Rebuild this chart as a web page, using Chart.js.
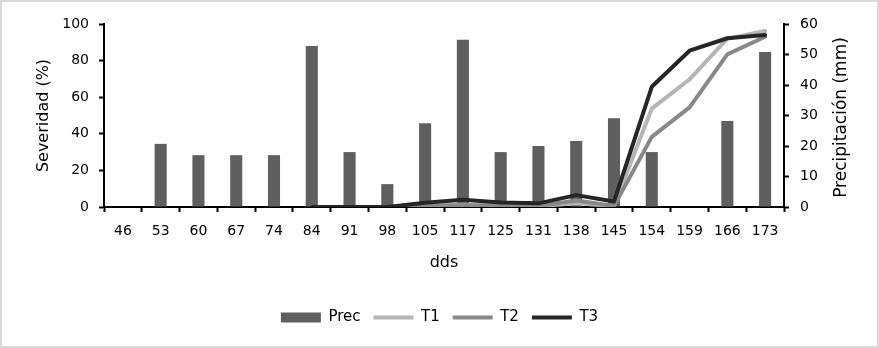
<!DOCTYPE html>
<html>
<head>
<meta charset="utf-8">
<script src="https://cdn.jsdelivr.net/npm/chart.js@4/dist/chart.umd.min.js"></script>
<style>
  html, body { margin: 0; padding: 0; background: #fff; }
  #wrap { width: 879px; height: 348px; }
</style>
</head>
<body>
<div id="wrap"><canvas id="chart" width="879" height="348"></canvas></div>
<script>
// Days after sowing (dds)
const days = ['46', '53', '60', '67', '74', '84', '91', '98', '105', '117', '125', '131', '138', '145', '154', '159', '166', '173'];

// Rainfall per interval, mm (right axis)
const precipitation = [0, 20.7, 17, 17, 17, 52.8, 18, 7.5, 27.5, 54.8, 18, 20, 21.6, 29.1, 18, 0, 28.2, 50.8];

// Disease severity per treatment, % (left axis)
const severityT1 = [null, null, null, null, null, 0, 0, 0, 0.5, 1.2, 0.8, 0.5, 2, 0.5, 53.8, 69.7, 92, 96.2];
const severityT2 = [null, null, null, null, null, 0, 0, 0, 0.5, 1, 0.5, 0.5, 3.5, 0.5, 38.3, 54.4, 83.4, 93];
const severityT3 = [null, null, null, null, null, 0, 0, 0, 2.3, 4, 2.5, 2, 6.5, 3, 65.7, 85.4, 92.2, 94];

const severityTicks = [0, 20, 40, 60, 80, 100];
const rainTicks = [0, 10, 20, 30, 40, 50, 60];

const FONT = 'DejaVu Sans';
const INK = '#000';

// White page with a light frame, plus the right axis title read bottom-to-top
const framePlugin = {
  id: 'frame',
  beforeDraw(chart) {
    const { ctx, width, height } = chart;
    ctx.save();
    ctx.fillStyle = '#fff';
    ctx.fillRect(0, 0, width, height);
    ctx.strokeStyle = '#d9d9d9';
    ctx.lineWidth = 2;
    ctx.strokeRect(1, 1, width - 2, height - 2);
    ctx.restore();
  },
  afterDraw(chart) {
    const { ctx, chartArea } = chart;
    const scale = chart.scales.y1;
    ctx.save();
    ctx.translate(scale.right - 25, (chartArea.top + chartArea.bottom) / 2 + 2);
    ctx.rotate(-Math.PI / 2);
    ctx.font = '17px "' + FONT + '"';
    ctx.fillStyle = INK;
    ctx.textAlign = 'center';
    ctx.textBaseline = 'middle';
    ctx.fillText('Precipitación (mm)', 0, 0);
    ctx.restore();
  }
};

const axisGrid = {
  drawOnChartArea: false,
  drawTicks: true,
  tickLength: 5,
  tickColor: '#000',
  tickWidth: 2
};
const axisBorder = { display: true, color: '#000', width: 2 };

new Chart(document.getElementById('chart'), {
  type: 'bar',
  data: {
    labels: days,
    datasets: [
      {
        type: 'bar',
        label: 'Prec',
        data: precipitation,
        yAxisID: 'y1',
        backgroundColor: '#5f5f5f',
        borderWidth: 0,
        barPercentage: 0.32,
        categoryPercentage: 1,
        pointStyle: 'rect',
        order: 4
      },
      {
        type: 'line',
        label: 'T1',
        data: severityT1,
        yAxisID: 'y',
        borderColor: '#b5b5b5',
        backgroundColor: '#b5b5b5',
        borderWidth: 4,
        borderCapStyle: 'round',
        borderJoinStyle: 'round',
        pointRadius: 0,
        pointStyle: 'line',
        tension: 0,
        order: 3
      },
      {
        type: 'line',
        label: 'T2',
        data: severityT2,
        yAxisID: 'y',
        borderColor: '#888888',
        backgroundColor: '#888888',
        borderWidth: 4,
        borderCapStyle: 'round',
        borderJoinStyle: 'round',
        pointRadius: 0,
        pointStyle: 'line',
        tension: 0,
        order: 2
      },
      {
        type: 'line',
        label: 'T3',
        data: severityT3,
        yAxisID: 'y',
        borderColor: '#262626',
        backgroundColor: '#262626',
        borderWidth: 4,
        borderCapStyle: 'round',
        borderJoinStyle: 'round',
        pointRadius: 0,
        pointStyle: 'line',
        tension: 0,
        order: 1
      }
    ]
  },
  options: {
    responsive: false,
    animation: false,
    devicePixelRatio: 1,
    layout: { padding: { left: 12, right: 12, top: 24, bottom: 13 } },
    plugins: {
      tooltip: { enabled: false },
      legend: {
        position: 'bottom',
        labels: {
          font: { family: FONT, size: 15 },
          color: INK,
          usePointStyle: true,
          pointStyleWidth: 40,
          boxHeight: 10,
          padding: 13,
          sort: (a, b) => a.datasetIndex - b.datasetIndex
        }
      }
    },
    scales: {
      x: {
        grid: axisGrid,
        border: axisBorder,
        ticks: {
          font: { family: FONT, size: 14 },
          color: INK,
          maxRotation: 0,
          autoSkip: false,
          padding: 11
        },
        title: {
          display: true,
          text: 'dds',
          font: { family: FONT, size: 16 },
          color: INK,
          padding: { top: 0, bottom: 25 }
        },
        afterFit(scale) { scale.height = 90; }
      },
      y: {
        position: 'left',
        min: 0,
        max: 100,
        grid: axisGrid,
        border: axisBorder,
        afterBuildTicks(scale) { scale.ticks = severityTicks.map(v => ({ value: v })); },
        ticks: {
          font: { family: FONT, size: 14 },
          color: INK,
          padding: 10
        },
        title: {
          display: true,
          text: 'Severidad (%)',
          font: { family: FONT, size: 16 },
          color: INK,
          padding: { top: 22, bottom: 0 }
        },
        afterFit(scale) { scale.width = 92; }
      },
      y1: {
        position: 'right',
        min: 0,
        max: 60,
        grid: axisGrid,
        border: axisBorder,
        afterBuildTicks(scale) { scale.ticks = rainTicks.map(v => ({ value: v })); },
        ticks: {
          font: { family: FONT, size: 14 },
          color: INK,
          padding: 11
        },
        title: { display: false },
        afterFit(scale) { scale.width = 83; }
      }
    }
  },
  plugins: [framePlugin]
});
</script>
</body>
</html>
